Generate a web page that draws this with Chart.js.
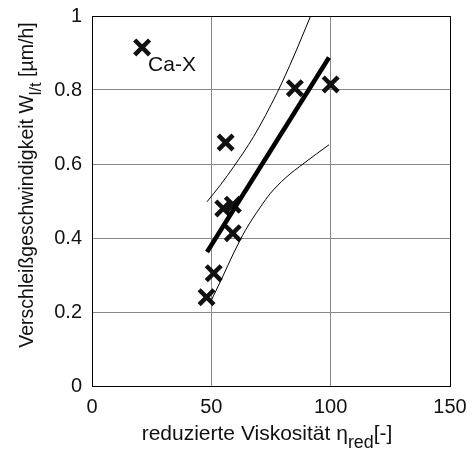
<!DOCTYPE html>
<html>
<head>
<meta charset="utf-8">
<script src="https://cdn.jsdelivr.net/npm/chart.js@4"></script>
<style>
  body { margin: 0; background: #fff; }
  #wrap { width: 475px; height: 450px; }
</style>
</head>
<body>
<div id="wrap"><canvas id="Grafico" width="475" height="450"></canvas></div>
<script>
// messpunkte
const viskositaet = [48, 51, 55, 59, 59, 56, 85, 100];
const verschleiss = [0.24, 0.305, 0.48, 0.49, 0.413, 0.658, 0.805, 0.815];
const caX = [{ x: 21, y: 0.915 }];

// regressionsgerade und vertrauensband
const gerade = [{ x: 48.2, y: 0.362 }, { x: 99.3, y: 0.888 }];
const obenX = [48.2, 54, 59.4, 67.8, 77.6, 84.6, 91.6];
const obenY = [0.498, 0.545, 0.593, 0.675, 0.793, 0.892, 1.0];
const untenX = [49.5, 54.5, 59.4, 64.3, 70.6, 74.8, 81, 88.8, 99.3];
const untenY = [0.225, 0.292, 0.36, 0.421, 0.484, 0.521, 0.562, 0.602, 0.652];

const xTicks = [0, 50, 100, 150];
const yTicks = [0, 0.2, 0.4, 0.6, 0.8, 1];

const fontFam = "'Liberation Sans', Arial, sans-serif";

function toPts(xs, ys) {
    return xs.map((x, i) => ({ x: x, y: ys[i] }));
}

// text mit tiefgestelltem teil
function drawSub(ctx, parts, x, y, size) {
    let cx = x;
    parts.forEach(p => {
        let fs = p.sub ? size * 0.85 : size;
        ctx.font = fs + "px " + fontFam;
        ctx.fillText(p.t, cx, p.sub ? y + size * 0.4 : y);
        cx += ctx.measureText(p.t).width;
    });
    return cx - x;
}
function measureSub(ctx, parts, size) {
    let w = 0;
    parts.forEach(p => {
        ctx.font = (p.sub ? size * 0.85 : size) + "px " + fontFam;
        w += ctx.measureText(p.t).width;
    });
    return w;
}

const extras = {
    id: 'extras',
    afterDraw(chart) {
        const ctx = chart.ctx;
        const a = chart.chartArea;
        const xs = chart.scales.x, ys = chart.scales.y;
        ctx.save();
        ctx.strokeStyle = '#000';
        ctx.lineWidth = 1;
        ctx.strokeRect(a.left + 0.5, a.top + 0.5, a.right - a.left, a.bottom - a.top);

        ctx.fillStyle = '#111';
        ctx.textBaseline = 'alphabetic';
        ctx.textAlign = 'left';
        // beschriftung Ca-X
        const px = xs.getPixelForValue(caX[0].x);
        const py = ys.getPixelForValue(caX[0].y);
        drawSub(ctx, [{ t: 'Ca-X', sub: false }], px + 6, py + 24, 21);

        // x-achsentitel
        const xParts = [{ t: 'reduzierte Viskosität η' }, { t: 'red', sub: true }, { t: '[-]' }];
        const xw = measureSub(ctx, xParts, 21);
        drawSub(ctx, xParts, (a.left + a.right) / 2 - xw / 2 - 4, 440, 21);

        // y-achsentitel
        const yParts = [{ t: 'Verschleißgeschwindigkeit W' }, { t: 'l/t', sub: true }, { t: ' [µm/h]' }];
        const yw = measureSub(ctx, yParts, 19.5);
        ctx.translate(33, 185);
        ctx.rotate(-Math.PI / 2);
        drawSub(ctx, yParts, -yw / 2, 0, 19.5);
        ctx.restore();
    }
};

const ctx = document.getElementById('Grafico').getContext('2d');
new Chart(ctx, {
    type: 'scatter',
    data: {
        datasets: [
            {
                data: toPts(obenX, obenY),
                showLine: true,
                borderColor: '#000',
                borderWidth: 1,
                pointRadius: 0,
                cubicInterpolationMode: 'monotone'
            },
            {
                data: toPts(untenX, untenY),
                showLine: true,
                borderColor: '#000',
                borderWidth: 1,
                pointRadius: 0,
                cubicInterpolationMode: 'monotone'
            },
            {
                data: gerade,
                showLine: true,
                borderColor: '#000',
                borderWidth: 4.5,
                pointRadius: 0
            },
            {
                data: toPts(viskositaet, verschleiss),
                pointStyle: 'crossRot',
                pointRadius: 10.5,
                borderColor: '#111',
                borderWidth: 4.5
            },
            {
                data: caX,
                pointStyle: 'crossRot',
                pointRadius: 10.5,
                borderColor: '#111',
                borderWidth: 4.5
            }
        ]
    },
    options: {
        responsive: false,
        animation: false,
        events: [],
        layout: { padding: { top: 16, right: 25, left: 0, bottom: 0 } },
        plugins: { legend: { display: false }, tooltip: { enabled: false } },
        scales: {
            x: {
                type: 'linear',
                min: 0, max: 150,
                afterBuildTicks: s => { s.ticks = xTicks.map(v => ({ value: v })); },
                afterFit: s => { s.height = 64; s.paddingLeft = 0; s.paddingRight = 0; },
                grid: { color: '#888', lineWidth: 1, drawTicks: false },
                border: { color: '#000' },
                ticks: { color: '#111', padding: 9, font: { family: fontFam, size: 20 }, maxRotation: 0 }
            },
            y: {
                min: 0, max: 1,
                afterBuildTicks: s => { s.ticks = yTicks.map(v => ({ value: v })); },
                afterFit: s => { s.width = 92; s.paddingTop = 0; s.paddingBottom = 0; },
                grid: { color: '#888', lineWidth: 1, drawTicks: false },
                border: { color: '#000' },
                ticks: { color: '#111', padding: 10, font: { family: fontFam, size: 20 },
                    callback: v => String(v) }
            }
        }
    },
    plugins: [extras]
});
</script>
</body>
</html>
